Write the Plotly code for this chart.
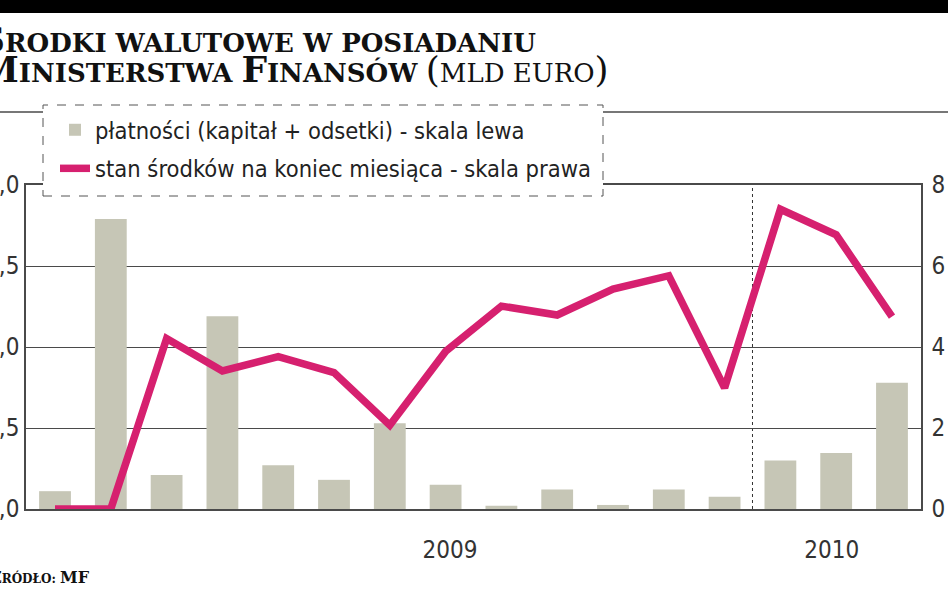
import plotly.graph_objects as go

# ---------------- data ----------------
months = ["XII 2008", "I 2009", "II 2009", "III 2009", "IV 2009", "V 2009", "VI 2009",
          "VII 2009", "VIII 2009", "IX 2009", "X 2009", "XI 2009", "XII 2009",
          "I 2010", "II 2010", "III 2010"]
payments = [0.11, 1.79, 0.21, 1.19, 0.27, 0.18, 0.53, 0.15, 0.02, 0.12, 0.025, 0.12,
            0.076, 0.30, 0.345, 0.78]          # mld euro, left scale
balance = [0.0, 0.0, 4.21, 3.41, 3.76, 3.37, 2.07, 3.89, 5.01, 4.79, 5.43, 5.76,
           2.99, 7.40, 6.77, 4.75]             # mld euro, right scale
left_tickvals = [0.0, 0.5, 1.0, 1.5, 2.0]
left_ticktext = ["0,0", "0,5", "1,0", "1,5", "2,0"]
right_tickvals = [0, 2, 4, 6, 8]
year_labels = ["2009", "2010"]
year_label_pos = [7.08, 13.92]
year_break = 12.5

x = list(range(len(months)))

# ---------------- geometry helpers ----------------
W, H = 948, 593
PL, PR, PT, PB = 26, 921, 185, 509


def fx(px):
    return (px - PL) / (PR - PL)


def fy(py):
    return (PB - py) / (PB - PT)


SANS = "Liberation Sans Narrow, DejaVu Sans Condensed, Roboto Condensed, DejaVu Sans, sans-serif"
SERIF = "DejaVu Serif, Liberation Serif, serif"
BAR_COLOR = "#c6c6b6"
LINE_COLOR = "#d6206f"
GRID = "#4a4a4a"

fig = go.Figure()
fig.add_trace(go.Bar(
    x=x, y=payments, name="płatności (kapitał + odsetki) - skala lewa",
    marker=dict(color=BAR_COLOR, line=dict(width=0)), width=0.57,
    customdata=months, hovertemplate="%{customdata}: %{y}<extra></extra>",
    legendgroup="a",
))
fig.add_trace(go.Scatter(
    x=x, y=balance, name="stan środków na koniec miesiąca - skala prawa",
    mode="lines", line=dict(color=LINE_COLOR, width=7.5), yaxis="y2",
    customdata=months, hovertemplate="%{customdata}: %{y}<extra></extra>",
    legendgroup="b",
))

shapes = [
    # top black band
    dict(type="rect", xref="paper", yref="paper", x0=fx(-5), x1=fx(W + 5),
         y0=fy(13), y1=fy(-5), fillcolor="black", line=dict(width=0), layer="above"),
    # rule under title
    dict(type="line", xref="paper", yref="paper", x0=fx(-2), x1=fx(W + 2),
         y0=fy(112), y1=fy(112), line=dict(color=GRID, width=1.5), layer="above"),
    # legend box
    dict(type="rect", xref="paper", yref="paper", x0=fx(43), x1=fx(603),
         y0=fy(196), y1=fy(105), fillcolor="white",
         line=dict(color="#555555", width=1, dash="dash"), layer="above"),
    # year break
    dict(type="line", xref="x", yref="paper", x0=year_break, x1=year_break,
         y0=0, y1=1, line=dict(color="#333333", width=1, dash="dot"), layer="below"),
]

BIG = 36
SMALL = 26


def big(s, size=BIG):
    return f"<span style='font-size:{size}px'>{s}</span>"


def small(s, size=SMALL):
    return f"<span style='font-size:{size}px'>{s}</span>"


title_text = (
    "<b>" + big("Ś") + small("RODKI WALUTOWE W POSIADANIU") + "</b><br>"
    + "<b>" + big("M") + small("INISTERSTWA ") + big("F") + small("INANSÓW") + "</b>"
    + small(" ") + big("(") + small("MLD EURO") + big(")")
)
source_text = "<b>" + big("Ź", 16) + small("RÓDŁO: ", 12) + big("MF", 16) + "</b>"

annotations = [
    dict(xref="paper", yref="paper", x=fx(-23), y=fy(54), xanchor="left", yanchor="middle",
         text=title_text, showarrow=False, align="left",
         font=dict(family=SERIF, size=23, color="#111111")),
    dict(xref="paper", yref="paper", x=fx(-12), y=fy(577), xanchor="left", yanchor="middle",
         text=source_text, showarrow=False,
         font=dict(family=SERIF, size=12, color="#111111")),
]

fig.update_layout(
    width=W, height=H,
    margin=dict(l=PL, r=W - PR, t=PT, b=H - PB, pad=0, autoexpand=False),
    paper_bgcolor="white", plot_bgcolor="white",
    showlegend=True,
    legend=dict(x=fx(55), y=fy(108), xanchor="left", yanchor="top",
                bgcolor="rgba(0,0,0,0)", borderwidth=0,
                font=dict(family=SANS, size=23.5, color="#222222"),
                tracegroupgap=5, traceorder="grouped"),
    xaxis=dict(range=[-0.52, 15.52], tickvals=year_label_pos, ticktext=year_labels,
               showgrid=False, zeroline=False, showline=True, linecolor=GRID,
               linewidth=1.5, mirror=True, ticks="", ticklabelstandoff=18,
               automargin=False,
               tickfont=dict(family=SANS, size=24, color="#333333")),
    yaxis=dict(range=[0, 2.0], tickvals=left_tickvals, ticktext=left_ticktext,
               showgrid=True, gridcolor=GRID, gridwidth=1.3, zeroline=False,
               showline=True, linecolor=GRID, linewidth=1.5, ticks="",
               ticklabelstandoff=0, automargin=False,
               tickfont=dict(family=SANS, size=24, color="#333333")),
    yaxis2=dict(range=[0, 8], tickvals=right_tickvals, overlaying="y", side="right",
                showgrid=False, zeroline=False, showline=True, linecolor=GRID,
                linewidth=1.5, ticks="", ticklabelstandoff=4, automargin=False,
                tickfont=dict(family=SANS, size=24, color="#333333")),
    shapes=shapes,
    annotations=annotations,
    bargap=0.4,
)

fig.write_html("out.html")
